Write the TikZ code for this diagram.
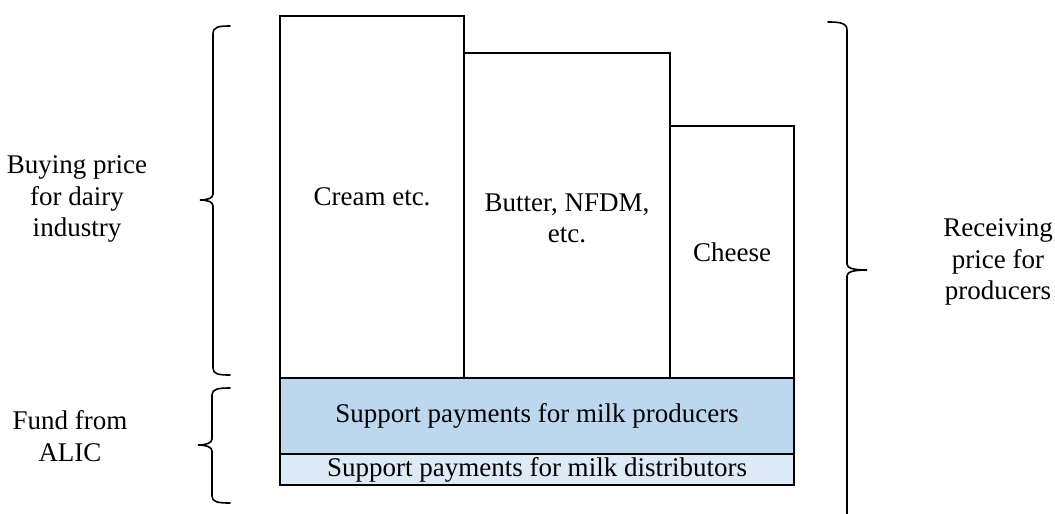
\documentclass[tikz,border=0pt]{standalone}
\usepackage{fontspec}
\setmainfont{Liberation Serif}
\definecolor{prodblue}{HTML}{BDD7EE}
\definecolor{distblue}{HTML}{DEEBF7}
\begin{document}
\begin{tikzpicture}[x=1pt,y=-1pt,
  box/.style={draw=black,line width=2pt,anchor=north west,inner sep=0pt,outer sep=0pt},
  txt/.style={align=center,inner sep=0pt,font=\fontsize{27}{31.5}\selectfont},
  brace/.style={draw=black,line width=1.6pt,line cap=round}]
\useasboundingbox (0,0) rectangle (1055,514);
% boxes
\node[box,minimum width=184pt,minimum height=362pt] (cream) at (280,16) {};
\node[box,minimum width=206pt,minimum height=325pt] (butter) at (464,53) {};
\node[box,minimum width=124pt,minimum height=252pt] (cheese) at (670,126) {};
\node[box,fill=prodblue,minimum width=514pt,minimum height=76pt] (prod) at (280,378) {};
\node[box,fill=distblue,minimum width=514pt,minimum height=31pt] (dist) at (280,454) {};
% box texts
\node[txt] (creamt) at (cream.center) {Cream etc.};
\node[txt] (buttert) at ([yshift=-3pt]butter.center) {Butter, NFDM,\\etc.};
\node[txt] (cheeset) at (cheese.center) {Cheese};
\node[txt] (prodt) at (prod.center) {Support payments for milk producers};
\node[txt] (distt) at (dist.center) {Support payments for milk distributors};
% side texts
\node[txt] (buy) at (77,199) {Buying price\\for dairy\\industry};
\node[txt] (fund) at (70,436) {Fund from\\ALIC};
\node[txt] (recv) at (998,262) {Receiving\\price for\\producers};
% braces
\draw[brace] (230,26) .. controls (218,26) and (213,27) .. (213,34) -- (213,194)
  .. controls (213,198) and (208,200) .. (200,200)
  .. controls (208,200) and (213,202) .. (213,206) -- (213,368)
  .. controls (213,374) and (218,375) .. (230,375);
\draw[brace] (230,388) .. controls (218,388) and (212,389) .. (212,395) -- (212,439)
  .. controls (212,443) and (206,445) .. (198,445)
  .. controls (206,445) and (212,447) .. (212,451) -- (212,496)
  .. controls (212,502) and (218,503) .. (230,503);
\draw[brace] (828,22) .. controls (840,22) and (847,23) .. (847,30) -- (847,264)
  .. controls (847,268) and (853,270) .. (867,270)
  .. controls (853,270) and (847,272) .. (847,276) -- (847,514);
\end{tikzpicture}
\end{document}
